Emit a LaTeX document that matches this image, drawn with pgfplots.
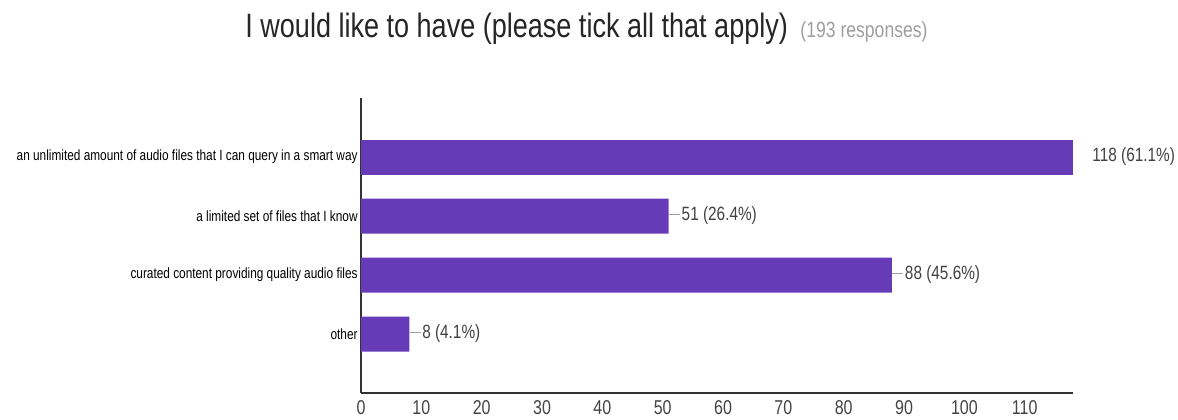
\documentclass[border=0pt]{standalone}
\usepackage{fontspec}
\setmainfont{Liberation Sans}[FakeStretch=0.8]
\usepackage{pgfplots}
\pgfplotsset{compat=1.18}
\definecolor{barc}{HTML}{673AB7}
\definecolor{axisc}{HTML}{333333}
\definecolor{tickc}{HTML}{444444}
\definecolor{valc}{HTML}{424242}
\definecolor{conn}{HTML}{9E9E9E}
\definecolor{resp}{HTML}{9E9E9E}
\begin{document}
\begin{tikzpicture}
\path[use as bounding box] (0,0) rectangle (589pt,209.5pt);
\node[anchor=base west, inner sep=0pt, font=\fontsize{16.9pt}{18pt}\selectfont, text=black!85] at (122.5pt,191pt) {I would like to have (please tick all that apply)};
\node[anchor=base west, inner sep=0pt, font=\fontsize{11pt}{12pt}\selectfont, text=resp] at (400pt,191pt) {(193 responses)};
\begin{axis}[
  at={(180.5pt,13pt)}, anchor=south west,
  scale only axis, width=356pt, height=147.5pt,
  xbar, bar width=17.5pt, bar shift=0pt,
  xmin=0, xmax=118, ymin=-1, ymax=4,
  enlargelimits=false, clip=false,
  axis x line*=bottom, axis y line*=left,
  axis line style={draw=axisc, line width=0.75pt},
  major tick length=0pt,
  xtick={0,10,...,110},
  ytick={0,1,2,3},
  yticklabels={other, curated content providing quality audio files, a limited set of files that I know, an unlimited amount of audio files that I can query in a smart way},
  yticklabel style={anchor=east, inner sep=0pt, xshift=-1.5pt, font=\fontsize{7.4pt}{9pt}\selectfont, text=black},
  xticklabel style={text=tickc, font=\fontsize{10pt}{12pt}\selectfont},
  /pgf/number format/assume math mode=true,
  point meta=explicit symbolic,
]
\addplot[fill=barc, draw=none,
  nodes near coords={\textcolor{conn}{\rule[0.32em]{5.5pt}{0.6pt}}\hspace{0.8pt}\pgfplotspointmeta},
  nodes near coords style={anchor=west, inner sep=0pt, font=\fontsize{9.6pt}{11pt}\selectfont, text=valc}]
  coordinates {(51,2) [51 (26.4\%)] (88,1) [88 (45.6\%)] (8,0) [8 (4.1\%)]};
\addplot[fill=barc, draw=none,
  nodes near coords={\pgfplotspointmeta},
  nodes near coords style={anchor=west, inner sep=0pt, xshift=9.5pt, font=\fontsize{9.6pt}{11pt}\selectfont, text=valc}]
  coordinates {(118,3) [118 (61.1\%)]};
\end{axis}
\end{tikzpicture}
\end{document}
